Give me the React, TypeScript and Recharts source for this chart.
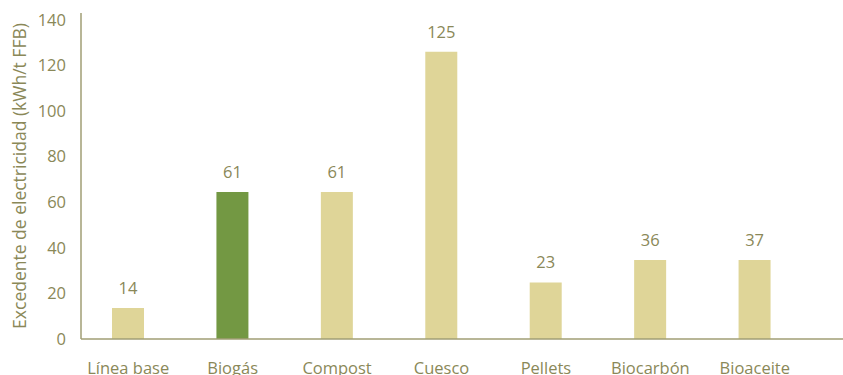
import React from "react";
import { BarChart, Bar, XAxis, YAxis, Cell, LabelList } from "recharts";

// categories, bar heights and the printed labels
const categories = ["Línea base", "Biogás", "Compost", "Cuesco", "Pellets", "Biocarbón", "Bioaceite"];
const barValues = [13.6, 64.5, 64.5, 126, 24.8, 34.6, 34.6];
const printedLabels = ["14", "61", "61", "125", "23", "36", "37"];
const yTicks = [0, 20, 40, 60, 80, 100, 120, 140];
const highlight = "Biogás";

const TEXT = "#8a8858";
const AXIS = "#a09e74";
const BAR = "#dfd598";
const BAR_HI = "#739843";
const FONT = "'Open Sans', 'Noto Sans', sans-serif";

const data = categories.map((c, i) => ({ name: c, value: barValues[i], label: printedLabels[i] }));

export default function App() {
  return (
    <div style={{ position: "absolute", left: 0, top: 0, width: 843, height: 375, background: "#fff" }}>
      <BarChart width={843} height={375} data={data} margin={{ top: 13, right: 0, left: 0, bottom: 6 }}>
        <XAxis
          dataKey="name"
          axisLine={{ stroke: AXIS, strokeWidth: 1.5 }}
          tickLine={false}
          tickMargin={17}
          height={30}
          interval={0}
          padding={{ left: -5, right: 36 }}
          tick={{ fill: TEXT, fontSize: 16.5, fontFamily: FONT }}
        />
        <YAxis
          width={81}
          domain={[0, 143]}
          ticks={yTicks}
          interval={0}
          allowDataOverflow
          axisLine={{ stroke: AXIS, strokeWidth: 1.5 }}
          tickLine={false}
          tickMargin={9}
          tick={{ fill: TEXT, fontSize: 16.5, fontFamily: FONT }}
          label={{
            value: "Excedente de electricidad (kWh/t FFB)",
            angle: -90,
            position: "insideLeft",
            offset: 20,
            style: { textAnchor: "middle", fill: TEXT, fontSize: 17.5, fontFamily: FONT },
          }}
        />
        <Bar dataKey="value" barSize={32} isAnimationActive={false}>
          {data.map((d, i) => (
            <Cell key={i} fill={d.name === highlight ? BAR_HI : BAR} />
          ))}
          <LabelList dataKey="label" position="top" offset={14} style={{ fill: TEXT, fontSize: 16.5, fontFamily: FONT }} />
        </Bar>
      </BarChart>
    </div>
  );
}
